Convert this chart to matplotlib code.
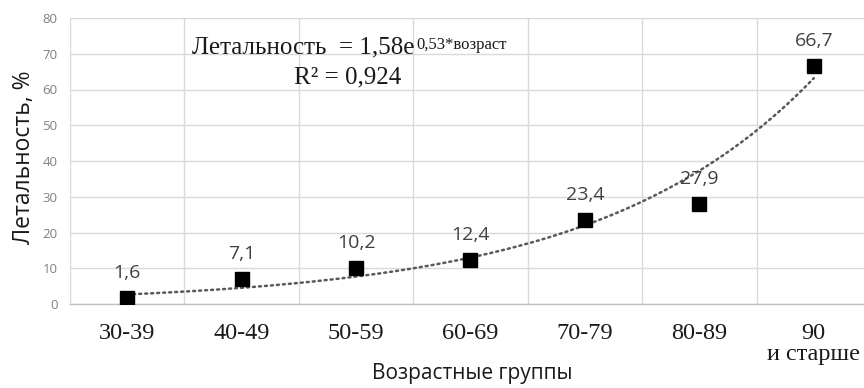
import numpy as np
import matplotlib
matplotlib.use("Agg")
import matplotlib.pyplot as plt

categories = ["30-39", "40-49", "50-59", "60-69", "70-79", "80-89", "90\nи старше"]
lethality = [1.6, 7.1, 10.2, 12.4, 23.4, 27.9, 66.7]
value_labels = ["1,6", "7,1", "10,2", "12,4", "23,4", "27,9", "66,7"]
y_ticks = [0, 10, 20, 30, 40, 50, 60, 70, 80]

SANS = ["Open Sans", "DejaVu Sans"]
SERIF = ["Liberation Serif", "DejaVu Serif"]

fig = plt.figure(figsize=(8.64, 3.88), dpi=100)
ax = fig.add_axes([70/864, 1 - 304/388, (871 - 70)/864, (304 - 18)/388])

x = np.arange(len(categories))
ax.set_xlim(-0.5, len(categories) - 0.5)
ax.set_ylim(0, 80)

# grid
ax.set_yticks(y_ticks)
ax.set_xticks(x)
ax.set_xticks(np.arange(-0.5, len(categories), 1.0), minor=True)
ax.grid(True, which="major", axis="y", color="#d9d9d9", lw=1.0)
ax.grid(True, which="minor", axis="x", color="#d9d9d9", lw=1.0)
ax.set_axisbelow(True)
for s in ["top", "right", "left"]:
    ax.spines[s].set_visible(False)
ax.spines["bottom"].set_color("#bfbfbf")
ax.spines["bottom"].set_linewidth(1.0)

ax.tick_params(axis="both", which="both", length=0)
ax.tick_params(axis="y", labelsize=9.5, labelcolor="#808080", pad=9)
ax.set_yticklabels([str(v) for v in y_ticks], family=SANS)
ax.tick_params(axis="x", pad=14)
ax.set_xticklabels(categories, family=SERIF, fontsize=17.5, color="#1a1a1a", linespacing=0.95)

# trendline (exponential fit)
xf = np.arange(1, len(lethality) + 1)
b, lna = np.polyfit(xf, np.log(lethality), 1)
xs = np.linspace(1, len(lethality), 200)
ax.plot(xs - 1, np.exp(lna) * np.exp(b * xs), color="#595959", lw=1.8,
        linestyle=(0, (0.8, 1.6)), dash_capstyle="round", zorder=2)

# markers
ax.plot(x, lethality, linestyle="none", marker="s", markersize=9.5,
        color="black", zorder=3)

for xi, v, lab in zip(x, lethality, value_labels):
    ax.annotate(lab, (xi, v), xytext=(0, 18), textcoords="offset points",
                ha="center", va="center", fontsize=14, color="#404040",
                family=SANS)

# equation
main = fig.text(192/864, 1 - 53/388, "Летальность  = 1,58e", family=SERIF,
                fontsize=18, color="#1a1a1a", ha="left", va="baseline")
ax.annotate("0,53*возраст", xy=(1, 1), xycoords=main, xytext=(1, -1),
            textcoords="offset points", ha="left", va="top",
            family=SERIF, fontsize=12, color="#1a1a1a")
fig.text(348/864, 1 - 83/388, "R² = 0,924", family=SERIF, fontsize=18,
         color="#1a1a1a", ha="center", va="baseline")

fig.text(24/864, 1 - 157/388, "Летальность, %", family=SANS, fontsize=16.5,
         color="#1a1a1a", ha="center", va="center", rotation=90)
fig.text(472/864, 1 - 374/388, "Возрастные группы", family=SANS, fontsize=15,
         color="#1a1a1a", ha="center", va="center")

fig.savefig("out.png", dpi=100)
